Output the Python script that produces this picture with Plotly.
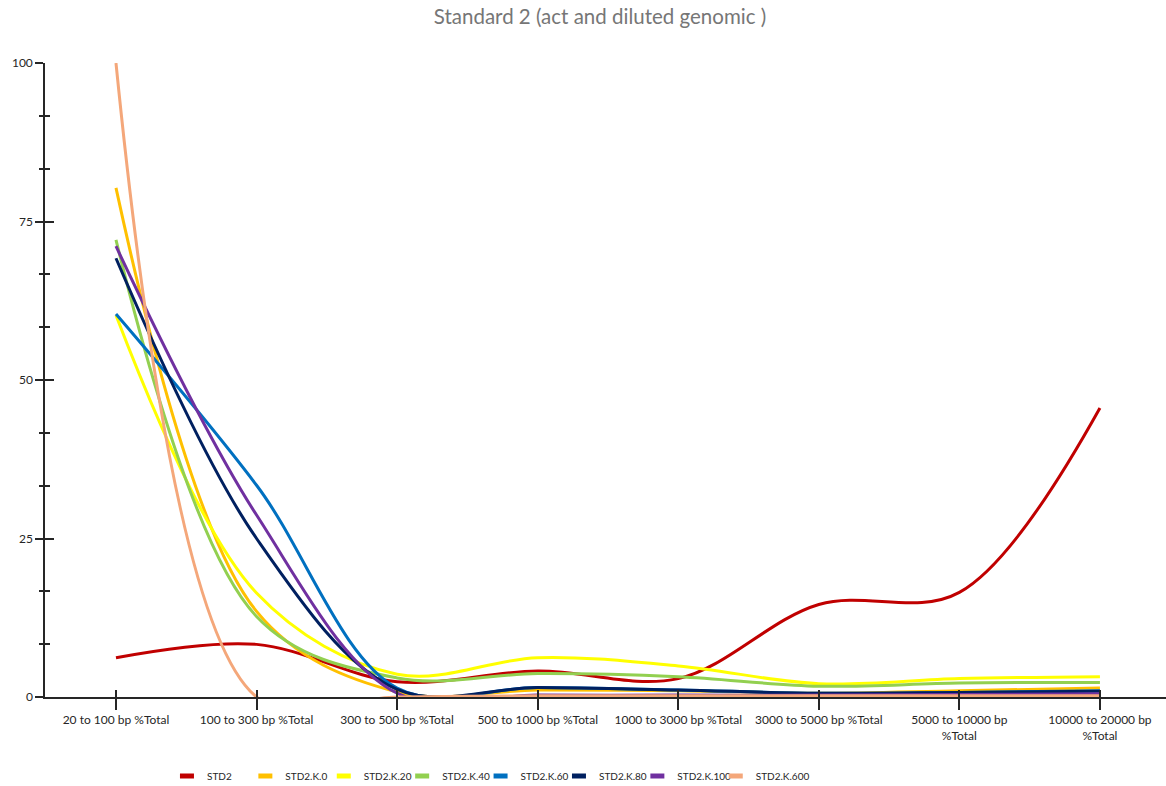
import plotly.graph_objects as go

# Fragment-size bins (x axis)
categories = [
    "20 to 100 bp %Total",
    "100 to 300 bp %Total",
    "300 to 500 bp %Total",
    "500 to 1000 bp %Total",
    "1000 to 3000 bp %Total",
    "3000 to 5000 bp %Total",
    "5000 to 10000 bp<br>%Total",
    "10000 to 20000 bp<br>%Total",
]

# Percent of total per bin for each sample
std2 = [6.2, 8.3, 2.4, 4.1, 2.9, 14.6, 16.5, 45.6]
std2_k0 = [80.3, 13.5, 0.8, 1.1, 1.0, 0.6, 1.0, 1.4]
std2_k20 = [60.2, 16.4, 3.6, 6.2, 4.9, 2.1, 2.9, 3.2]
std2_k40 = [72.1, 12.7, 3.0, 3.7, 3.2, 1.7, 2.2, 2.3]
std2_k60 = [60.4, 33.4, 1.4, 1.5, 1.1, 0.6, 0.7, 1.0]
std2_k80 = [69.2, 25.0, 1.2, 1.5, 1.1, 0.6, 0.7, 0.9]
std2_k100 = [71.1, 28.7, 0.6, 0.3, 0.3, 0.3, 0.4, 0.5]
std2_k600 = [100.0, 0.0, 0.0, 0.2, 0.2, 0.2, 0.2, 0.2]

y_ticks = [0, 25, 50, 75, 100]

series = [
    ("STD2", std2, "#C00000"),
    ("STD2.K.0", std2_k0, "#FFC000"),
    ("STD2.K.20", std2_k20, "#FFFF00"),
    ("STD2.K.40", std2_k40, "#92D050"),
    ("STD2.K.60", std2_k60, "#0070C0"),
    ("STD2.K.80", std2_k80, "#002060"),
    ("STD2.K.100", std2_k100, "#7030A0"),
    ("STD2.K.600", std2_k600, "#F4A77A"),
]

x_idx = list(range(len(categories)))
fig = go.Figure()

for name, vals, color in series:
    fig.add_trace(go.Scatter(
        x=x_idx, y=vals, name=name, mode="lines",
        line=dict(color=color, width=3, shape="spline", smoothing=1.0),
        showlegend=False,
    ))

# Legend entries drawn as short thick bars
for name, vals, color in series:
    fig.add_trace(go.Scatter(
        x=[None], y=[None], name=name, mode="markers",
        marker=dict(symbol="line-ew", size=10, color=color,
                    line=dict(color=color, width=6)),
        showlegend=True, hoverinfo="skip",
    ))

# Blank trailing legend slot so the last label is not cut off
fig.add_trace(go.Scatter(
    x=[None], y=[None], name=" ", mode="markers",
    marker=dict(color="rgba(0,0,0,0)", size=1),
    showlegend=True, hoverinfo="skip",
))

# Helper trace so the overlaid axes (inner half of the crossing ticks) render
fig.add_trace(go.Scatter(x=[None], y=[None], xaxis="x2", yaxis="y2",
                         showlegend=False, hoverinfo="skip"))

font_family = "Lato, 'Open Sans', sans-serif"
x_range = [-0.505, 7.47]
y_range = [0, 100]

fig.update_layout(
    width=1166, height=786,
    margin=dict(l=45, r=0, t=63, b=89, autoexpand=False),
    paper_bgcolor="white", plot_bgcolor="white",
    font=dict(family=font_family, size=12, color="#262626"),
    title=dict(text="Standard 2 (act and diluted genomic )",
               x=600 / 1166, xref="container", xanchor="center",
               y=1 - 17 / 786, yanchor="middle",
               font=dict(family=font_family, size=20.5, color="#767676")),
    xaxis=dict(range=x_range, tickvals=x_idx, ticktext=categories,
               showgrid=False, zeroline=False,
               showline=True, linecolor="#262626", linewidth=1.5,
               ticks="outside", ticklen=11, tickwidth=1.5, tickcolor="#262626",
               tickfont=dict(size=12, color="#262626"), tickangle=0),
    yaxis=dict(range=y_range, tickvals=y_ticks,
               showgrid=False, zeroline=False,
               showline=True, linecolor="#262626", linewidth=1.5,
               ticks="outside", ticklen=8, tickwidth=1.5, tickcolor="#262626",
               minor=dict(dtick=25 / 3, ticks="outside", ticklen=4,
                          tickwidth=1.5, tickcolor="#262626", showgrid=False),
               tickfont=dict(size=12, color="#262626")),
    xaxis2=dict(range=x_range, overlaying="x", anchor="y2",
                tickvals=x_idx, showticklabels=False,
                showgrid=False, zeroline=False, showline=False,
                ticks="inside", ticklen=7, tickwidth=1.5, tickcolor="#262626"),
    yaxis2=dict(range=y_range, overlaying="y", anchor="x2",
                tickvals=y_ticks, showticklabels=False,
                showgrid=False, zeroline=False, showline=False,
                ticks="inside", ticklen=9, tickwidth=1.5, tickcolor="#262626",
                minor=dict(dtick=25 / 3, ticks="inside", ticklen=5,
                           tickwidth=1.5, tickcolor="#262626", showgrid=False)),
    legend=dict(orientation="h", x=0.1088, xanchor="left",
                y=-79 / 634, yanchor="middle",
                font=dict(size=10, color="#262626"),
                entrywidth=33.4, entrywidthmode="pixels",
                bgcolor="rgba(0,0,0,0)"),
    showlegend=True,
)

fig.write_html("out.html")
